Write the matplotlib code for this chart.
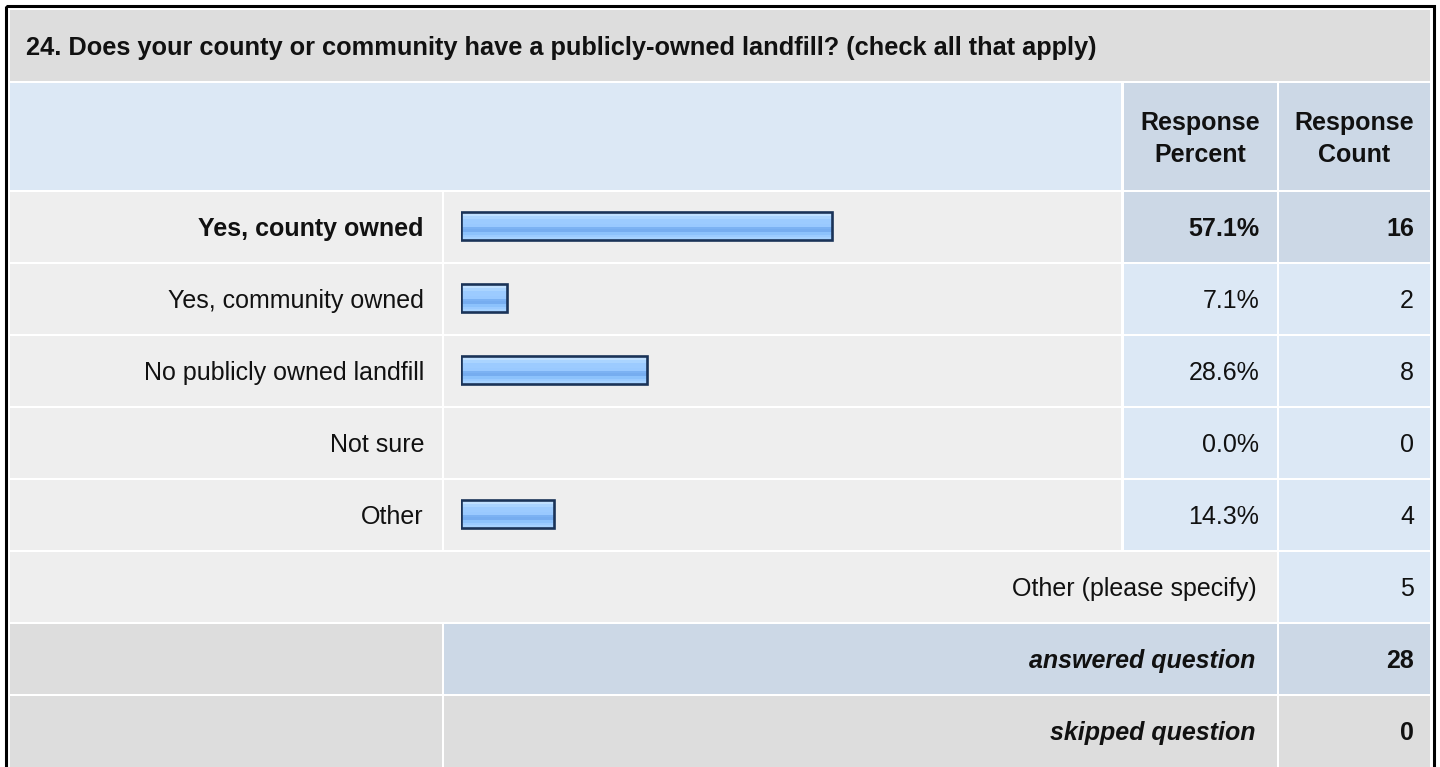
import numpy as np
import matplotlib
matplotlib.use('Agg')
from matplotlib import pyplot as plt
from matplotlib.patches import Rectangle
from matplotlib.colors import to_rgb

plt.rcParams['font.family'] = ['Liberation Sans', 'DejaVu Sans']

# survey data
question = '24. Does your county or community have a publicly-owned landfill? (check all that apply)'
answers = ['Yes, county owned', 'Yes, community owned', 'No publicly owned landfill', 'Not sure', 'Other']
percents = [57.1, 7.1, 28.6, 0.0, 14.3]
counts = [16, 2, 8, 0, 4]
other_specify = 5
answered = 28
skipped = 0

W, H = 1440, 767
fs = 18
cap_half = 0.358 * fs * 100 / 72

c_title = '#dddddd'
c_head = '#dce8f5'
c_dark = '#ccd8e6'
c_row = '#eeeeee'
c_val = '#dce8f5'

fig = plt.figure(figsize=(W / 100, H / 100), dpi=100)
ax = fig.add_axes([0, 0, 1, 1])
ax.set_xlim(0, W)
ax.set_ylim(H, 0)
ax.axis('off')

cols = [(9.5, 442), (444, 1121), (1123.5, 1276.5), (1279, 1430)]


def cell(x0, x1, y0, y1, color):
    ax.add_patch(Rectangle((x0, y0), x1 - x0, y1 - y0, facecolor=color, edgecolor='none'))


def put(x, yc, s, ha='right', weight='normal', style='normal'):
    ax.text(x, yc + cap_half, s, ha=ha, va='baseline', fontsize=fs,
            fontweight=weight, fontstyle=style, color='#111111')


def row_span(k):
    y0 = 192 + 72 * k
    return y0, y0 + 70


# outer frame
ax.add_patch(Rectangle((5.5, 5.5), 1428.5, 800, fill=False, edgecolor='black', lw=2.2))

# title row
cell(cols[0][0], cols[3][1], 9.5, 80.5, c_title)
ax.text(26, 55, question, ha='left', va='baseline', fontsize=18.3, fontweight='bold', color='#111111')

# header row
cell(cols[0][0], cols[1][1], 82.5, 190, c_head)
cell(*cols[2], 82.5, 190, c_dark)
cell(*cols[3], 82.5, 190, c_dark)
for x, s in [(1200, 'Response\nPercent'), (1354.5, 'Response\nCount')]:
    ax.text(x, 139, s, ha='center', va='center', fontsize=fs, fontweight='bold',
            linespacing=1.4, color='#111111')

# answer rows
top = int(np.argmax(percents))
for k, (name, p, n) in enumerate(zip(answers, percents, counts)):
    y0, y1 = row_span(k)
    yc = (y0 + y1) / 2
    cell(*cols[0], y0, y1, c_row)
    cell(*cols[1], y0, y1, c_row)
    vc = c_dark if k == top else c_val
    cell(*cols[2], y0, y1, vc)
    cell(*cols[3], y0, y1, vc)
    w = 'bold' if k == top else 'normal'
    put(424, yc, name, weight=w)
    put(1259, yc, f'{p:.1f}%', weight=w)
    put(1414, yc, str(n), weight=w)

# other (please specify)
y0, y1 = row_span(5)
cell(cols[0][0], cols[2][1], y0, y1, c_row)
cell(*cols[3], y0, y1, c_val)
put(1257, (y0 + y1) / 2, 'Other (please specify)')
put(1414, (y0 + y1) / 2, str(other_specify))

# answered / skipped
y0, y1 = row_span(6)
cell(*cols[0], y0, y1, c_title)
cell(cols[1][0], cols[2][1], y0, y1, c_dark)
cell(*cols[3], y0, y1, c_dark)
put(1255, (y0 + y1) / 2, 'answered question', weight='bold', style='italic')
put(1414, (y0 + y1) / 2, str(answered), weight='bold')

y0, y1 = row_span(7)
y1 = H
cell(*cols[0], y0, y1, c_title)
cell(cols[1][0], cols[2][1], y0, y1, c_title)
cell(*cols[3], y0, y1, c_title)
yc = (y0 + 766) / 2
put(1255, yc, 'skipped question', weight='bold', style='italic')
put(1414, yc, str(skipped), weight='bold')

# bars in their own axes, 0..100 %
bax = fig.add_axes([461 / W, 1 - 550 / H, 650 / W, 360 / H])
bax.axis('off')
pos = np.arange(len(answers))
bars = bax.barh(pos, percents, height=0.40, color='none', edgecolor='#1a3358',
                linewidth=1.9, zorder=3)

grad_colors = ['#d2eaff', '#c0e0ff', '#aad4ff', '#9ccbff', '#9ccbff', '#99c9ff',
               '#7cb2f3', '#76adf0', '#8cc2fc', '#9bcbff', '#a6d2ff']
grad = np.array([to_rgb(c) for c in grad_colors])[:, None, :]
for b, p in zip(bars, percents):
    if p == 0:
        b.set_visible(False)
        continue
    x0, y0 = b.get_x(), b.get_y()
    im = bax.imshow(grad, extent=[x0, x0 + b.get_width(), y0 + b.get_height(), y0],
                    aspect='auto', interpolation='nearest', zorder=2)
    im.set_clip_path(b)

bax.set_xlim(0, 100)
bax.set_ylim(len(answers) - 0.5, -0.5)

fig.savefig('out.png', dpi=100)
